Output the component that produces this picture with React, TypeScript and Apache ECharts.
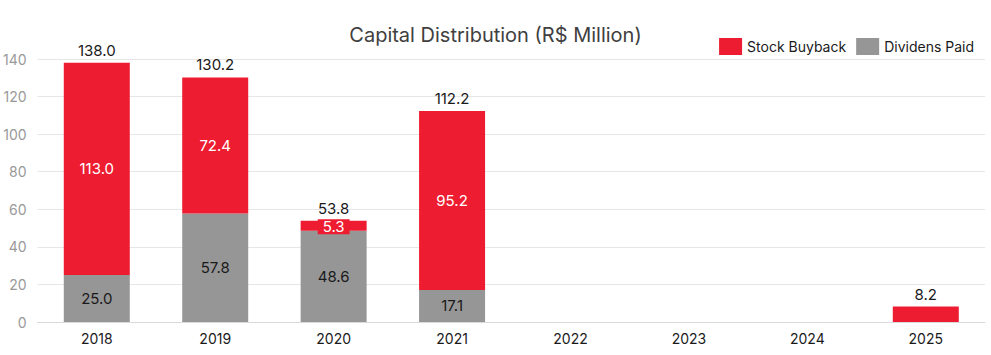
import React, { useEffect, useRef } from "react";
import * as echarts from "echarts";

const categories = ["2018", "2019", "2020", "2021", "2022", "2023", "2024", "2025"];
const buyback: (number | null)[] = [113.0, 72.4, 5.3, 95.2, null, null, null, 8.2];
const dividends: (number | null)[] = [25.0, 57.8, 48.6, 17.1, null, null, null, null];
const totals: (number | null)[] = [138.0, 130.2, 53.8, 112.2, null, null, null, 8.2];
const yTicks = { min: 0, max: 140, interval: 20 };

const FONT = "Inter, 'Noto Sans', sans-serif";

export default function App() {
  const ref = useRef<HTMLDivElement>(null);
  useEffect(() => {
    document.body.style.margin = "0";
    if (!ref.current) return;
    const chart = echarts.init(ref.current, null, { renderer: "svg" });
    chart.setOption({
      animation: false,
      textStyle: { fontFamily: FONT },
      title: {
        text: "Capital Distribution (R$ Million)",
        left: "center",
        top: 20,
        textStyle: { fontFamily: FONT, fontSize: 20, fontWeight: "normal", color: "#404040" },
      },
      legend: {
        data: ["Stock Buyback", "Dividens Paid"],
        right: 12,
        top: 33,
        itemWidth: 23,
        itemHeight: 17,
        itemGap: 10,
        icon: "rect",
        textStyle: { fontFamily: FONT, fontSize: 14, color: "#1a1a1a" },
      },
      grid: { left: 37, right: 6, top: 59, bottom: 33, containLabel: false },
      xAxis: {
        type: "category",
        data: categories,
        axisLine: { lineStyle: { color: "#d9d9d9" } },
        axisTick: { show: false },
        axisLabel: { color: "#1a1a1a", fontSize: 14, margin: 9, fontFamily: FONT },
      },
      yAxis: {
        type: "value",
        min: yTicks.min,
        max: yTicks.max,
        interval: yTicks.interval,
        axisLine: { show: false },
        axisTick: { show: false },
        splitLine: { lineStyle: { color: "#e6e6e6" } },
        axisLabel: { color: "#999999", fontSize: 14, margin: 11, fontFamily: FONT },
      },
      series: [
        {
          name: "Dividens Paid",
          type: "bar",
          stack: "s",
          barWidth: 66,
          data: dividends,
          itemStyle: { color: "#969696" },
          label: {
            show: true,
            position: "inside",
            color: "#1a1a1a",
            fontSize: 15,
            fontFamily: FONT,
            formatter: (p: any) => (p.value == null ? "" : Number(p.value).toFixed(1)),
          },
        },
        {
          name: "Stock Buyback",
          type: "bar",
          stack: "s",
          barWidth: 66,
          data: buyback.map((v, i) =>
            i === 2
              ? {
                  value: v,
                  label: {
                    backgroundColor: "#ed1c31",
                    padding: [0, 5],
                    offset: [0, 1],
                  },
                }
              : i === 7
              ? { value: v, label: { show: false } }
              : v
          ),
          itemStyle: { color: "#ed1c31" },
          label: {
            show: true,
            position: "inside",
            color: "#ffffff",
            fontSize: 15,
            fontFamily: FONT,
            formatter: (p: any) => (p.value == null ? "" : Number(p.value).toFixed(1)),
          },
        },
        {
          name: "Total",
          type: "bar",
          barWidth: 66,
          barGap: "-100%",
          z: 0,
          data: totals,
          itemStyle: { color: "rgba(0,0,0,0)" },
          label: {
            show: true,
            position: "top",
            distance: 5,
            color: "#1a1a1a",
            fontSize: 15,
            fontFamily: FONT,
            formatter: (p: any) => (p.value == null ? "" : Number(p.value).toFixed(1)),
          },
          silent: true,
        },
      ],
    });
    return () => chart.dispose();
  }, []);
  return <div ref={ref} style={{ width: 991, height: 355 }} />;
}
